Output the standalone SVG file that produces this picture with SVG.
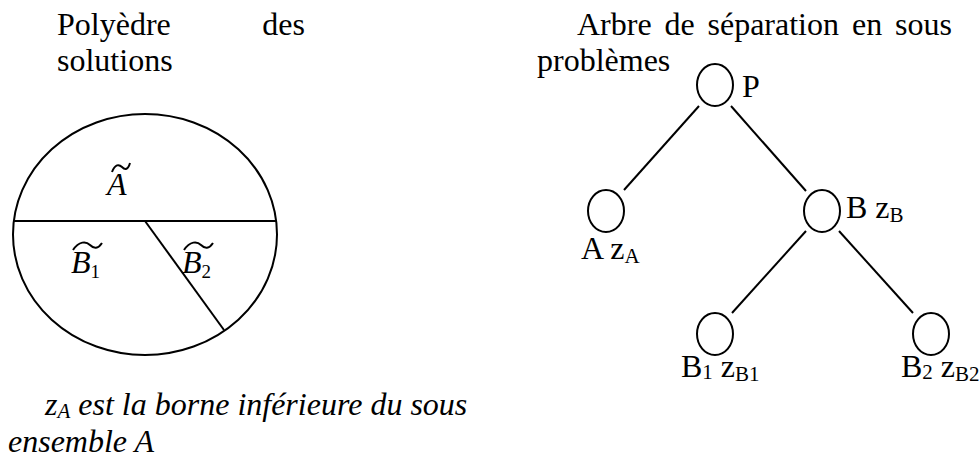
<svg xmlns="http://www.w3.org/2000/svg" width="980" height="459" viewBox="0 0 980 459">
<style>
text{font-family:"Liberation Serif","Times New Roman",serif;font-size:32px;fill:#000}
.it{font-style:italic}
.ln{stroke:#000;stroke-width:2;fill:none}
.nd{stroke:#000;stroke-width:2;fill:#fff}
.sub{font-size:21px}
</style>
<rect width="980" height="459" fill="#fff"/>
<g id="title-left">
<text x="57" y="35">Polyèdre</text>
<text x="305" y="35" text-anchor="end">des</text>
<text x="57" y="71">solutions</text>
</g>
<g id="title-right">
<text x="577" y="35">Arbre</text>
<text x="664.5" y="35">de</text>
<text x="707.5" y="35">séparation</text>
<text x="852" y="35">en</text>
<text x="952" y="35" text-anchor="end">sous</text>
<text x="537" y="71">problèmes</text>
</g>
<g id="polyhedron">
<ellipse class="ln" cx="145" cy="234.5" rx="132" ry="120.5"/>
<line class="ln" x1="13" y1="221" x2="277" y2="221"/>
<line class="ln" x1="145" y1="221" x2="224" y2="330"/>
<text class="it" x="107" y="195" font-size="28">A</text>
<path class="ln" stroke-width="1.3" d="M112,172 C115,164 119,164 122,167 C125,170 128,170 130,163"/>
<text class="it" x="71" y="273" font-size="28">B<tspan font-style="normal" font-size="19" dy="5">1</tspan></text>
<path class="ln" stroke-width="1.3" d="M73,250 C79,241 86,241 90,245 C94,249 98,249 102,243"/>
<text class="it" x="182" y="273" font-size="28">B<tspan font-style="normal" font-size="19" dy="5">2</tspan></text>
<path class="ln" stroke-width="1.3" d="M184,250 C190,241 197,241 201,245 C205,249 209,249 213,243"/>
</g>
<g id="note">
<text class="it" x="45" y="415">z<tspan class="sub" dy="3">A</tspan><tspan dy="-3"> est la borne inférieure du sous</tspan></text>
<text class="it" x="8" y="452">ensemble A</text>
</g>
<g id="connectors">
<line class="ln" x1="699" y1="106" x2="624" y2="190"/>
<line class="ln" x1="731" y1="106" x2="806" y2="191"/>
<line class="ln" x1="806" y1="231" x2="732" y2="313"/>
<line class="ln" x1="839" y1="231" x2="913" y2="313"/>
</g>
<g id="node-P">
<ellipse class="nd" cx="715" cy="85" rx="18" ry="21"/>
<text x="742" y="97">P</text>
</g>
<g id="node-A">
<ellipse class="nd" cx="606" cy="211" rx="18" ry="21"/>
<text x="581" y="259">A z<tspan class="sub" dy="4">A</tspan></text>
</g>
<g id="node-B">
<ellipse class="nd" cx="822" cy="211" rx="18" ry="21"/>
<text x="846" y="218">B z<tspan class="sub" dy="4">B</tspan></text>
</g>
<g id="node-B1">
<ellipse class="nd" cx="715" cy="334" rx="18" ry="21"/>
<text x="681" y="377">B<tspan class="sub" dy="2">1</tspan><tspan dy="-2"> z</tspan><tspan class="sub" dy="4">B1</tspan></text>
</g>
<g id="node-B2">
<ellipse class="nd" cx="931" cy="334" rx="18" ry="21"/>
<text x="901" y="377">B<tspan class="sub" dy="2">2</tspan><tspan dy="-2"> z</tspan><tspan class="sub" dy="4">B2</tspan></text>
</g>
</svg>
